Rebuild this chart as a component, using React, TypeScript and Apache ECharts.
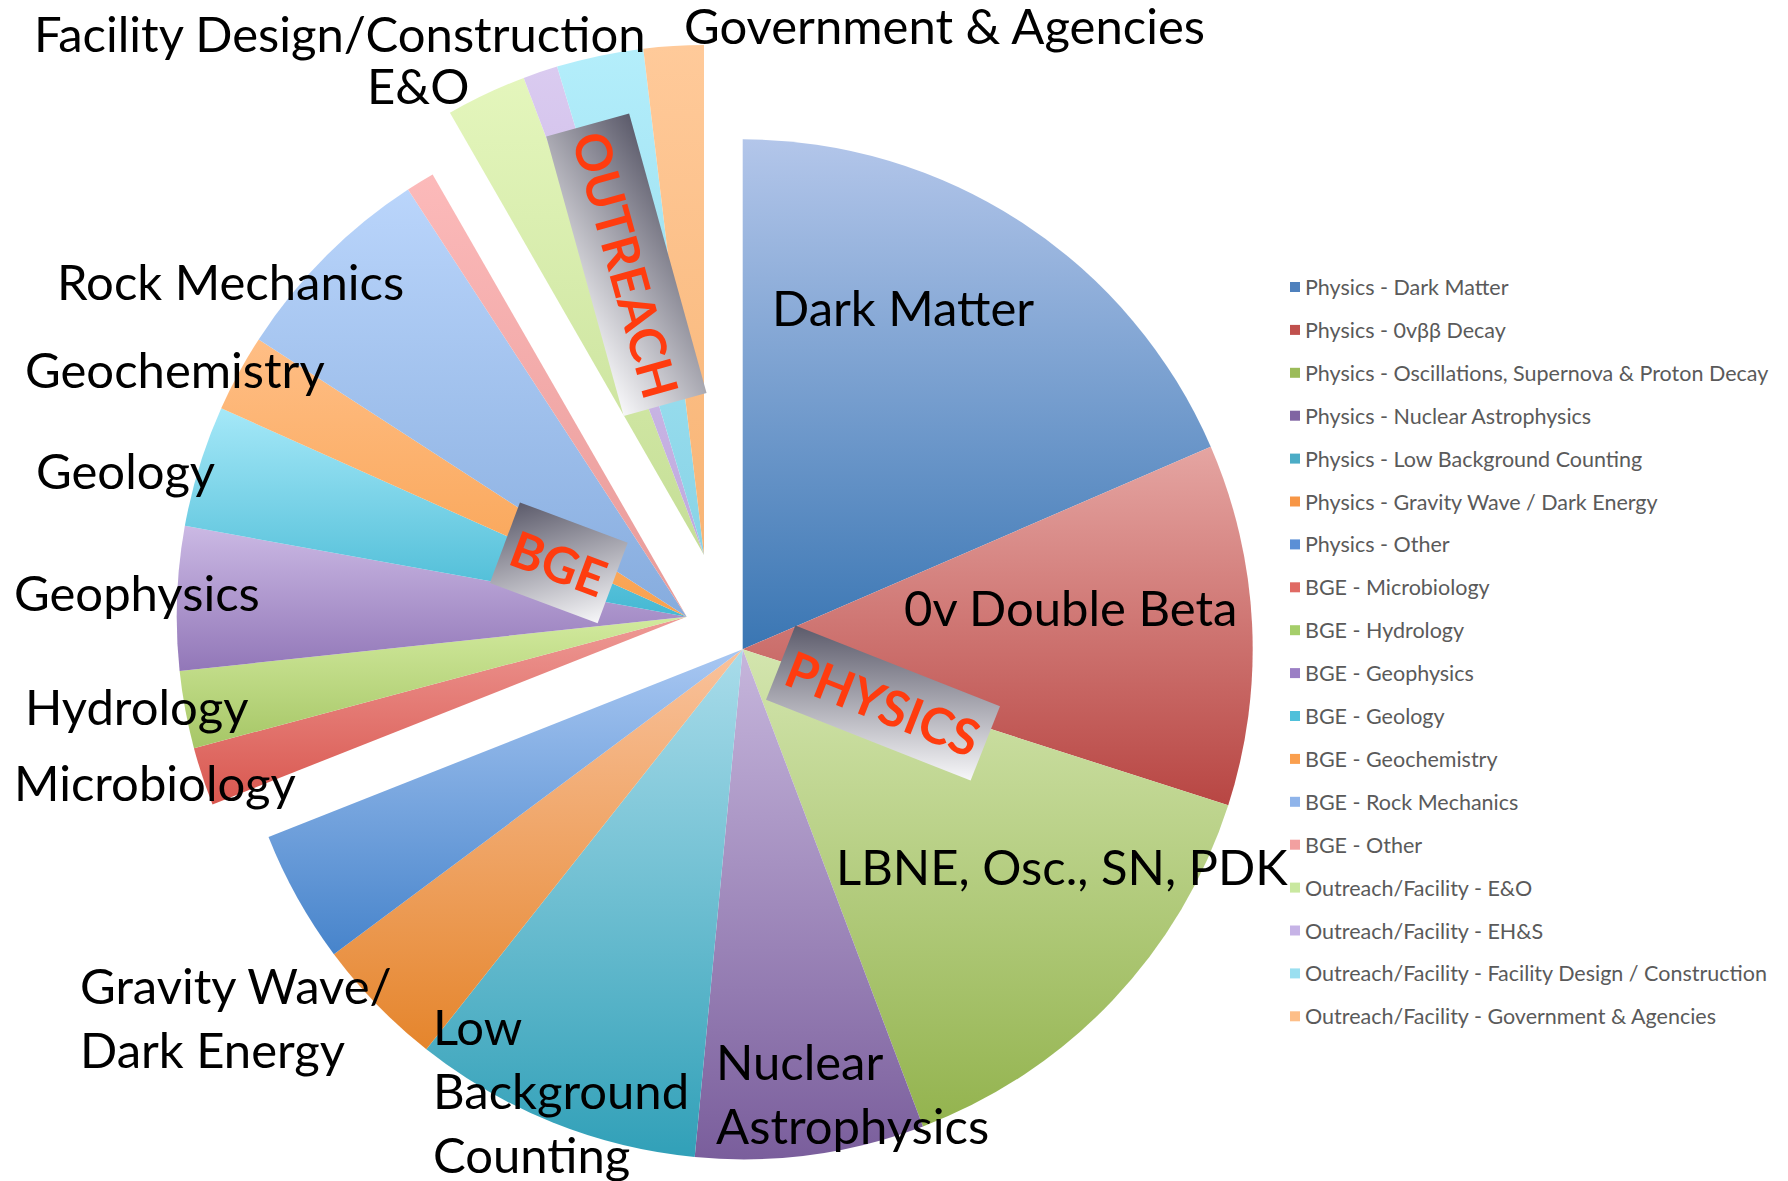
import React, { useEffect, useRef } from "react";
import * as echarts from "echarts";

// ---- Data (percent of total) ----
const physicsNames = [
  "Physics - Dark Matter",
  "Physics - 0vββ Decay",
  "Physics - Oscillations, Supernova & Proton Decay",
  "Physics - Nuclear Astrophysics",
  "Physics - Low Background Counting",
  "Physics - Gravity Wave / Dark Energy",
  "Physics - Other",
];
const physicsValues = [18.5, 11.45, 14.3, 7.25, 9.15, 4.15, 4.2];

const bgeNames = [
  "BGE - Microbiology",
  "BGE - Hydrology",
  "BGE - Geophysics",
  "BGE - Geology",
  "BGE - Geochemistry",
  "BGE - Rock Mechanics",
  "BGE - Other",
];
const bgeValues = [1.85, 2.45, 4.55, 3.85, 2.45, 6.65, 0.9];

const outreachNames = [
  "Outreach/Facility - E&O",
  "Outreach/Facility - EH&S",
  "Outreach/Facility - Facility Design / Construction",
  "Outreach/Facility - Government & Agencies",
];
const outreachValues = [2.55, 1.1, 2.75, 1.9];

// ---- Colours ----
const physicsTop = ["#B3C6EA", "#E5A5A2", "#D3E5AE", "#C6B6DC", "#A9DCEA", "#F9C29C", "#A8C7F2"];
const physicsBottom = ["#3A76B3", "#B84643", "#93B34E", "#7A5E9C", "#31A0B8", "#E5852C", "#4784CB"];
const physicsLegend = ["#4F81BD", "#C0504D", "#9BBB59", "#8064A2", "#4BACC6", "#F79646", "#5B8FD6"];

const bgeTop = ["#EE9A96", "#D2EA9E", "#CBB9E4", "#A5E8F8", "#FFBE85", "#BAD5FB", "#FCBABA"];
const bgeBottom = ["#D9574F", "#A6C666", "#9277B8", "#44B8D3", "#F8A14F", "#86ACDE", "#E89A98"];
const bgeLegend = ["#E06A64", "#A5CE6A", "#9B7FC5", "#4FC0DA", "#FA9F4E", "#8FB4EA", "#F2A0A0"];

const outreachTop = ["#E4F6BC", "#DACBF0", "#B4EEFB", "#FFCA9A"];
const outreachBottom = ["#C5DE96", "#BFA9DE", "#88D3E6", "#F8B474"];
const outreachLegend = ["#C9E8A0", "#C6B3E6", "#9ADFF0", "#FDBE88"];

// ---- Slice labels ----
const labelTexts = [
  "Facility Design/Construction",
  "E&O",
  "Government & Agencies",
  "Dark Matter",
  "0v Double Beta",
  "LBNE, Osc., SN, PDK",
  "Nuclear\nAstrophysics",
  "Low\nBackground\nCounting",
  "Gravity Wave/\nDark Energy",
  "Rock Mechanics",
  "Geochemistry",
  "Geology",
  "Geophysics",
  "Hydrology",
  "Microbiology",
];
const labelX = [34, 367, 684, 772, 904, 836, 716, 433, 80, 57, 25, 36, 14, 25, 14];
const labelBaseline = [51, 103, 43, 325, 625, 884, 1079, 1044, 1003, 299, 387, 488, 610, 724, 800];

const groupTags = ["PHYSICS", "BGE", "OUTREACH"];

const sum = (a: number[]) => a.reduce((s, v) => s + v, 0);

export default function App() {
  const ref = useRef<HTMLDivElement>(null);

  useEffect(() => {
    if (!ref.current) return;
    const chart = echarts.init(ref.current, null, { renderer: "svg" });
    const total = sum(physicsValues) + sum(bgeValues) + sum(outreachValues);

    const groups = [
      { names: physicsNames, values: physicsValues, top: physicsTop, bottom: physicsBottom, center: [742.7, 649.3] },
      { names: bgeNames, values: bgeValues, top: bgeTop, bottom: bgeBottom, center: [686.7, 616.7] },
      { names: outreachNames, values: outreachValues, top: outreachTop, bottom: outreachBottom, center: [704, 555] },
    ];

    let angle = 90;
    const series = groups.map((g) => {
      const span = (sum(g.values) / total) * 360;
      const s = {
        type: "pie",
        center: g.center,
        radius: [0, 510],
        startAngle: angle,
        endAngle: angle - span,
        clockwise: true,
        silent: true,
        z: 2,
        legendHoverLink: false,
        selectedMode: false,
        avoidLabelOverlap: false,
        minAngle: 0,
        label: { show: false },
        labelLine: { show: false },
        emphasis: { disabled: true },
        itemStyle: { borderWidth: 0 },
        data: g.names.map((n, i) => ({
          name: n,
          value: g.values[i],
          itemStyle: {
            color: new echarts.graphic.LinearGradient(0, 0, 0, 1, [
              { offset: 0, color: g.top[i] },
              { offset: 1, color: g.bottom[i] },
            ]),
          },
        })),
      };
      angle -= span;
      return s;
    });

    const legendNames = [...physicsNames, ...bgeNames, ...outreachNames];
    const legendColors = [...physicsLegend, ...bgeLegend, ...outreachLegend];

    const labelGraphics = labelTexts.map((t, i) => {
      const multi = t.indexOf("\n") >= 0;
      const lh = multi ? 64 : 46;
      return {
        type: "text",
        x: labelX[i],
        y: labelBaseline[i] - (lh / 2 + 18),
        z: 100,
        silent: true,
        style: {
          text: t,
          fontFamily: "Lato",
          fontSize: 49,
          lineHeight: lh,
          fill: "#000000",
          align: "left",
          verticalAlign: "top",
        },
      };
    });

    const tagBoxes = [
      { cx: 883, cy: 703, w: 220, h: 80, rot: -21.5 },
      { cx: 558.8, cy: 562.8, w: 115, h: 86, rot: -20.5 },
      { cx: 626.4, cy: 264.8, w: 290, h: 86, rot: -74.5 },
    ];
    const tagGraphics = tagBoxes.map((b, i) => ({
      type: "group",
      x: b.cx,
      y: b.cy,
      rotation: (b.rot * Math.PI) / 180,
      z: 110,
      silent: true,
      children: [
        {
          type: "rect",
          z: 110,
          shape: { x: -b.w / 2, y: -b.h / 2, width: b.w, height: b.h },
          style: {
            fill: new echarts.graphic.LinearGradient(0, 0, 1, 1, [
              { offset: 0, color: "#5C5B6B" },
              { offset: 1, color: "#F7F7F9" },
            ]),
          },
        },
        {
          type: "text",
          z: 111,
          x: 0,
          y: 0,
          style: {
            text: groupTags[i],
            fontFamily: "Lato",
            fontWeight: "bold",
            fontSize: 50,
            fill: "#FF3C0F",
            align: "center",
            verticalAlign: "middle",
          },
        },
      ],
    }));

    chart.setOption({
      animation: false,
      backgroundColor: "#ffffff",
      legend: {
        orient: "vertical",
        left: 1290,
        top: 276,
        padding: 0,
        icon: "rect",
        itemWidth: 10,
        itemHeight: 10,
        itemGap: 20.9,
        selectedMode: false,
        textStyle: { fontFamily: "Lato", fontSize: 21.5, lineHeight: 22, color: "#5A5A5A" },
        data: legendNames.map((n, i) => ({ name: n, itemStyle: { color: legendColors[i] } })),
      },
      series,
      graphic: [...labelGraphics, ...tagGraphics],
    });

    return () => chart.dispose();
  }, []);

  return (
    <div
      ref={ref}
      style={{ position: "absolute", left: 0, top: 0, width: 1788, height: 1181, background: "#fff" }}
    />
  );
}
